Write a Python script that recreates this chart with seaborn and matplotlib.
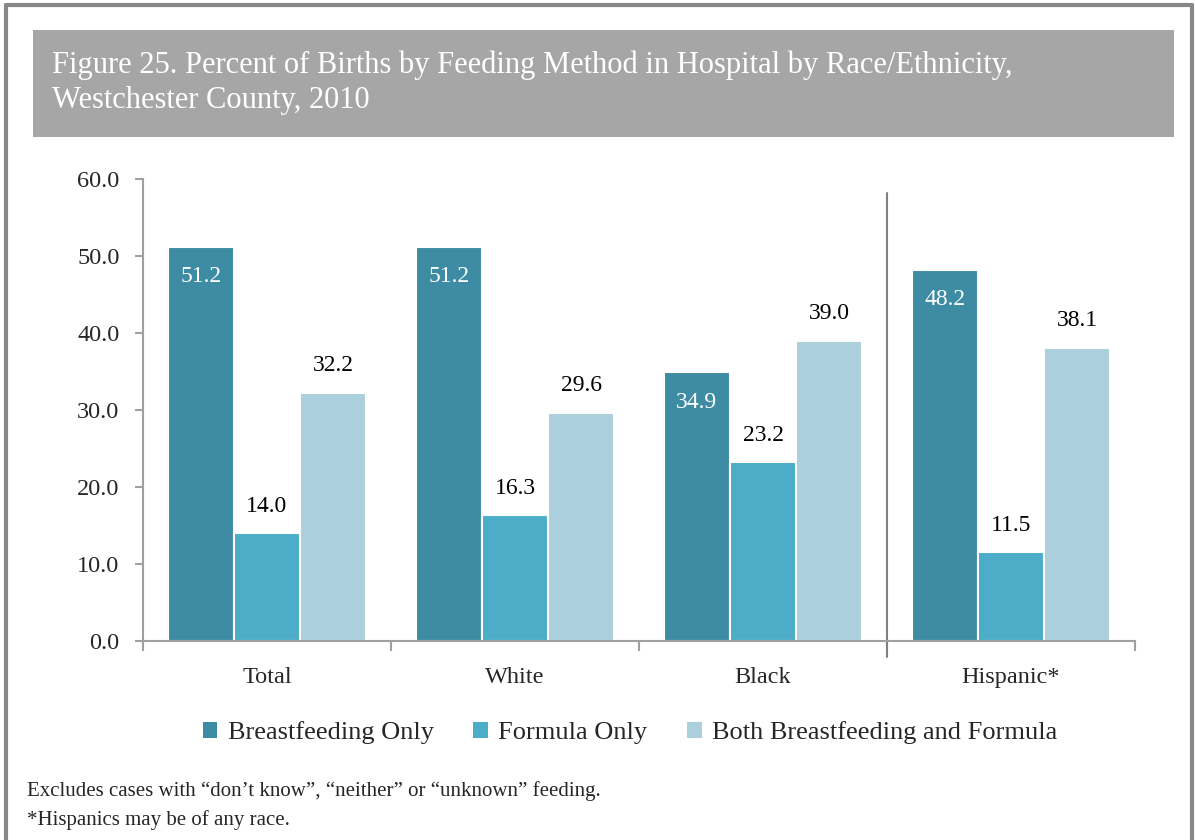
import pandas as pd
import matplotlib
matplotlib.use('Agg')
import matplotlib.pyplot as plt
import seaborn as sns
from matplotlib.patches import Rectangle
from matplotlib.lines import Line2D

# Chart data
groups = ['Total', 'White', 'Black', 'Hispanic*']
methods = ['Breastfeeding Only', 'Formula Only', 'Both Breastfeeding and Formula']
breastfeeding_only = [51.2, 51.2, 34.9, 48.2]
formula_only = [14.0, 16.3, 23.2, 11.5]
both_methods = [32.2, 29.6, 39.0, 38.1]
y_ticks = [0, 10, 20, 30, 40, 50, 60]

colors = ['#3d8ca3', '#4badc7', '#abcfdd']

rows = []
for method, values in zip(methods, [breastfeeding_only, formula_only, both_methods]):
    for g, v in zip(groups, values):
        rows.append({'group': g, 'method': method, 'value': v})
df = pd.DataFrame(rows)

sns.set_theme(style='white')
plt.rcParams['font.family'] = ['Liberation Serif', 'DejaVu Serif']

fig = plt.figure(figsize=(11.95, 8.4), dpi=100)
W, H = 1195, 840

# outer frame (left, top, right)
frame_kw = dict(color='#888888', linewidth=3, transform=fig.transFigure)
fig.add_artist(Line2D([6 / W, 6 / W], [0, 1 - 5 / H], **frame_kw))
fig.add_artist(Line2D([6 / W, 1192 / W], [1 - 5 / H, 1 - 5 / H], **frame_kw))
fig.add_artist(Line2D([1192 / W, 1192 / W], [0, 1 - 5 / H], **frame_kw))

# title banner
fig.add_artist(Rectangle((33 / W, 1 - 137 / H), (1174 - 33) / W, 107 / H,
                         transform=fig.transFigure, facecolor='#a6a6a6', edgecolor='none'))
fig.text(52 / W, 1 - 83 / H,
         'Figure 25. Percent of Births by Feeding Method in Hospital by Race/Ethnicity,\nWestchester County, 2010',
         color='white', fontsize=22, va='center', ha='left', linespacing=1.25)

ax = fig.add_axes([143 / W, 1 - 641 / H, (1135 - 143) / W, (641 - 179) / H])
sns.barplot(data=df, x='group', y='value', hue='method', palette=colors, saturation=1,
            width=0.8, edgecolor='white', linewidth=1.5, ax=ax, legend=False)

ax.set_xlim(-0.5, 3.5)
ax.set_ylim(0, 60)
ax.set_yticks(y_ticks)
ax.set_yticklabels([f'{t:.1f}' for t in y_ticks])
ax.set_xlabel('')
ax.set_ylabel('')

for s in ['top', 'right']:
    ax.spines[s].set_visible(False)
for s in ['left', 'bottom']:
    ax.spines[s].set_color('#a0a0a0')
    ax.spines[s].set_linewidth(1.5)

ax.tick_params(axis='y', which='major', left=True, length=6, width=1.5,
               color='#a0a0a0', labelsize=17.5, pad=11, direction='out')
ax.tick_params(axis='x', which='major', bottom=False, labelsize=17.5, pad=13)
ax.set_xticks([-0.5, 0.5, 1.5, 2.5, 3.5], minor=True)
ax.tick_params(axis='x', which='minor', bottom=True, length=7, width=1.5,
               color='#a0a0a0', direction='out')

# divider before Hispanic
ax.axvline(2.5, ymin=-0.035, ymax=0.97, color='#808080', linewidth=1.5, clip_on=False)

# value labels
for i, cont in enumerate(ax.containers):
    labels = [f'{v:.1f}' for v in cont.datavalues]
    if i == 0:
        ax.bar_label(cont, labels=labels, padding=-29, color='white', fontsize=17)
    else:
        ax.bar_label(cont, labels=labels, padding=12, color='black', fontsize=17)

handles = [Rectangle((0, 0), 1, 1, facecolor=c, edgecolor='none') for c in colors]
fig.legend(handles, methods, loc='center', bbox_to_anchor=(630 / W, 1 - 733 / H),
           ncol=3, frameon=False, fontsize=19, handlelength=0.55, handleheight=0.55,
           handletextpad=0.4, columnspacing=1.5)

fig.text(27 / W, 1 - 791 / H,
         'Excludes cases with \u201cdon\u2019t know\u201d, \u201cneither\u201d or \u201cunknown\u201d feeding.',
         fontsize=15, va='center', ha='left')
fig.text(27 / W, 1 - 820 / H, '*Hispanics may be of any race.',
         fontsize=15, va='center', ha='left')

fig.savefig('out.png', dpi=100)
